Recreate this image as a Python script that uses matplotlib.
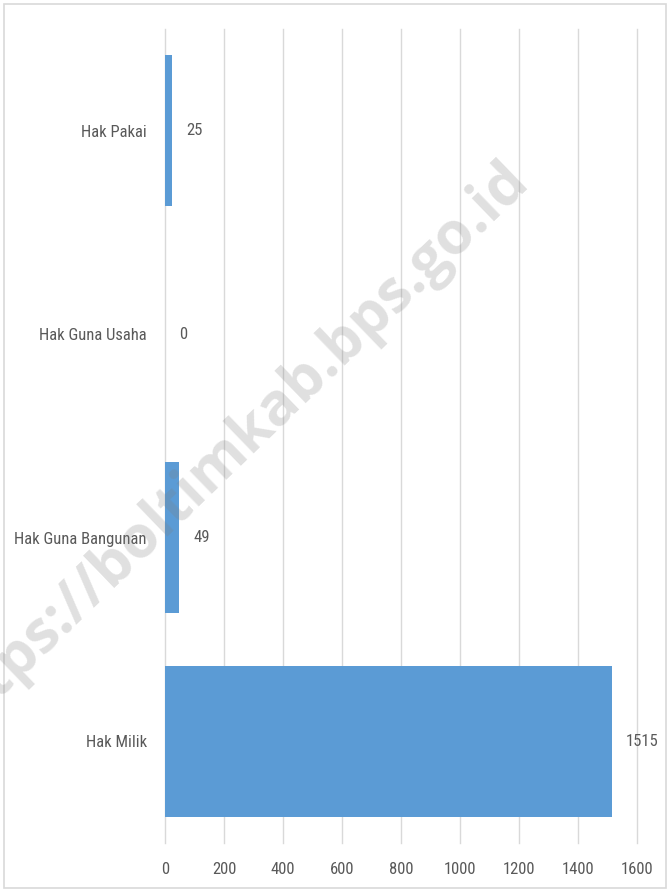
import matplotlib
matplotlib.use('Agg')
import matplotlib.pyplot as plt
from matplotlib.patches import Rectangle

# Data
categories = ['Hak Milik', 'Hak Guna Bangunan', 'Hak Guna Usaha', 'Hak Pakai']
values = [1515, 49, 0, 25]
xticks = [0, 200, 400, 600, 800, 1000, 1200, 1400, 1600]

plt.rcParams['font.family'] = ['Roboto Condensed', 'Liberation Sans Narrow', 'Lato', 'DejaVu Sans']

text_col = '#595959'
grid_col = '#d9d9d9'
bar_col = '#5b9bd5'

fig = plt.figure(figsize=(6.7, 8.92), dpi=100)
ax = fig.add_axes([0.2463, 0.0549, 0.7044, 0.9126])

ypos = range(len(categories))
ax.barh(ypos, values, height=0.74, color=bar_col, zorder=2)

# value labels to the right of each bar
for y, v in zip(ypos, values):
    ax.annotate(str(v), (v, y), xytext=(10, 0), textcoords='offset points',
                va='center', ha='left', fontsize=12, color=text_col)

ax.set_xlim(0, 1600)
ax.set_ylim(-0.5, len(categories) - 0.5)
ax.set_xticks(xticks)
ax.set_yticks(list(ypos))
ax.set_yticklabels(categories)
ax.tick_params(axis='both', length=0, labelsize=12, colors=text_col)
ax.tick_params(axis='y', pad=13)
ax.tick_params(axis='x', pad=14)
ax.grid(axis='x', color=grid_col, linewidth=1, zorder=0)
for gl in ax.get_xgridlines():
    gl.set_clip_on(False)
for s in ax.spines.values():
    s.set_visible(False)

# outer chart border
fig.patches.append(Rectangle((4 / 670, 4 / 892), 662 / 670, 884 / 892,
                             transform=fig.transFigure, fill=False,
                             edgecolor=grid_col, linewidth=1.2))

# watermark
fig.text(530 / 670, 1 - 182 / 892, 'https://boltimkab.bps.go.id',
         rotation=44, rotation_mode='anchor', ha='right', va='baseline',
         fontsize=42.5, fontweight='bold', family=['Open Sans', 'DejaVu Sans'],
         color='#7f7f7f', alpha=0.24, zorder=10)

fig.savefig('out.png', dpi=100)
